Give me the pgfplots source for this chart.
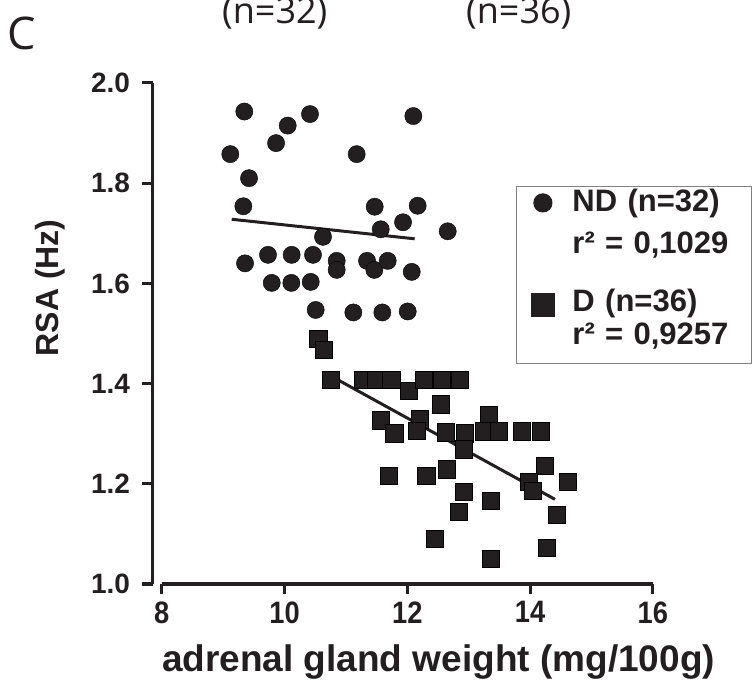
\documentclass[border=0pt]{standalone}
\usepackage{fontspec}
\usepackage{pgfplots}
\pgfplotsset{compat=1.18}
\usepackage{pgfplotstable}
\setmainfont{Liberation Sans}
\newfontfamily\lsans{Liberation Sans}
\newfontfamily\lsanscond{Liberation Sans}[FakeStretch=0.88]
\newfontfamily\opens{Open Sans}
\definecolor{dk}{HTML}{231F20}
\definecolor{lgray}{HTML}{808080}
\newcommand\ytf{\lsans\bfseries\fontsize{28bp}{30bp}\selectfont}
\newcommand\xtf{\lsanscond\bfseries\fontsize{31bp}{33bp}\selectfont}
\newcommand\lgf{\lsans\bfseries\fontsize{31bp}{33bp}\selectfont}
\newcommand\xlf{\lsans\bfseries\fontsize{37bp}{40bp}\selectfont}
\newcommand\ylf{\lsans\bfseries\fontsize{32bp}{36bp}\selectfont}

\pgfplotstableread{
x y
9.345 1.943
10.052 1.915
10.415 1.938
12.098 1.934
9.117 1.858
9.862 1.880
11.176 1.858
9.422 1.810
9.329 1.754
11.469 1.753
12.169 1.755
11.930 1.722
11.567 1.708
10.627 1.693
12.658 1.704
9.357 1.640
9.731 1.657
10.117 1.657
10.464 1.657
10.850 1.645
10.850 1.627
11.344 1.645
11.463 1.627
11.681 1.645
12.072 1.623
9.792 1.601
10.111 1.601
10.427 1.603
10.508 1.547
11.121 1.542
11.593 1.542
12.007 1.544
}\ndtable

\pgfplotstableread{
x y
10.550 1.489
10.638 1.468
10.746 1.407
11.267 1.407
11.490 1.407
11.739 1.407
12.028 1.386
12.272 1.407
12.554 1.407
12.847 1.407
12.549 1.359
11.572 1.327
11.788 1.301
12.207 1.329
12.153 1.306
12.619 1.303
12.939 1.301
12.912 1.269
13.331 1.338
13.238 1.305
13.482 1.305
13.863 1.305
14.173 1.305
14.235 1.236
14.612 1.204
13.971 1.204
14.036 1.186
11.697 1.216
12.309 1.216
12.647 1.229
12.912 1.184
13.352 1.166
12.831 1.144
14.433 1.139
12.446 1.090
14.274 1.072
13.352 1.050
}\dtable

\begin{document}
\begin{tikzpicture}
\useasboundingbox (0,0) rectangle (753bp,694bp);
\begin{axis}[
  at={(152.5bp,110bp)}, anchor=south west,
  scale only axis, width=500.4bp, height=501bp,
  xmin=7.85, xmax=16, ymin=1, ymax=2,
  axis lines=left,
  axis line style={-, line width=3.3bp, draw=dk},
  x axis line style={draw=none},
  tick align=outside, major tick length=10bp,
  tick style={line width=3bp, draw=dk},
  xtick={8,10,12,14,16}, xticklabels={8,10,12,14,16},
  ytick={1,1.2,1.4,1.6,1.8,2}, yticklabels={1.0,1.2,1.4,1.6,1.8,2.0},
  minor tick num=0,
  xticklabel style={font=\xtf, text=dk, yshift=-4bp},
  yticklabel style={font=\ytf, text=dk, xshift=-9bp},
  xlabel={adrenal gland weight (mg/100g)},
  xlabel style={font=\xlf, text=dk, at={(axis description cs:0.5716,-0.1737)}, anchor=base},
  ylabel={RSA (Hz)},
  ylabel style={font=\ylf, text=dk, at={(axis description cs:-0.205,0.591)}, anchor=center},
  clip=false,
  legend cell align=left,
  legend style={at={(axis description cs:0.7264,0.7944)}, anchor=north west,
    draw=lgray, line width=1.2bp, fill=white,
    inner xsep=14.2bp, inner ysep=0pt, row sep=0pt, column sep=17.5bp,
    nodes={inner sep=0pt, font=\lgf, text=dk}, cells={anchor=base west}},
]
\addplot[forget plot, line width=3.3bp, draw=dk] coordinates {(8,1) (16,1)};
\addplot[only marks, mark=*, mark size=8.6bp, mark options={draw=none, fill=dk},
  legend image code/.code={\fill[dk] (0bp,9bp) circle[radius=9bp];}] table[x=x,y=y] {\ndtable};
\addlegendentry[text height=25.3bp, text depth=12bp, text width=165bp, anchor=base west]{ND (n=32)}
\addlegendimage{empty legend}
\addlegendentry[text height=29.7bp, text depth=20bp, text width=165bp, anchor=base west]{r² = 0,1029}
\addplot[only marks, mark=square*, mark size=8.6bp, mark options={draw=none, fill=dk},
  legend image code/.code={\fill[dk] (-11.5bp,-4.9bp) rectangle (11.5bp,18.1bp);}] table[x=x,y=y] {\dtable};
\addlegendentry[text height=38.3bp, text depth=8bp, text width=165bp, anchor=base west]{D (n=36)}
\addlegendimage{empty legend}
\addlegendentry[text height=24.4bp, text depth=19.3bp, text width=165bp, anchor=base west]{r² = 0,9257}
\addplot[forget plot, line width=3bp, draw=dk] coordinates {(9.140,1.728) (12.12,1.689)};
\addplot[forget plot, line width=3bp, draw=dk] coordinates {(10.876,1.407) (14.405,1.169)};
\end{axis}
\node[anchor=base west, inner sep=0pt, font=\opens\fontsize{45bp}{50bp}\selectfont, text=dk] at (7bp,644bp) {C};
\node[anchor=base west, inner sep=0pt, font=\opens\fontsize{36bp}{40bp}\selectfont, text=dk] at (222bp,670.5bp) {(n=32)};
\node[anchor=base west, inner sep=0pt, font=\opens\fontsize{36bp}{40bp}\selectfont, text=dk] at (466bp,670.5bp) {(n=36)};
\end{tikzpicture}
\end{document}
